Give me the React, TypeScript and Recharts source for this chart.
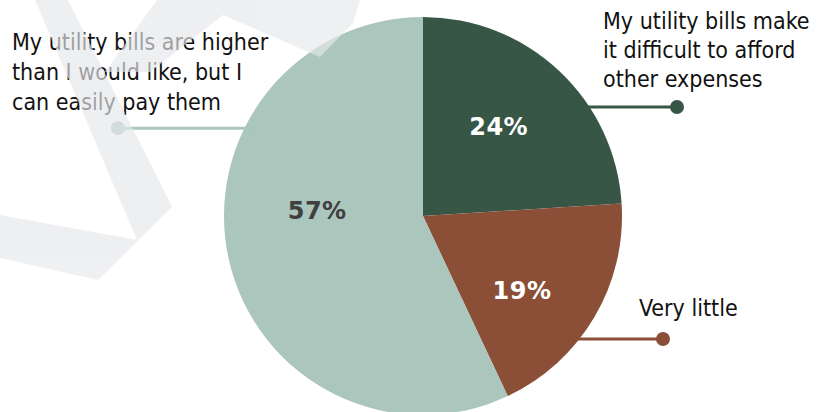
import React from 'react';
import { PieChart, Pie, Cell } from 'recharts';

const SLICE_NAMES = [
  'My utility bills make it difficult to afford other expenses',
  'Very little',
  'My utility bills are higher than I would like, but I can easily pay them',
];
const SLICE_VALUES = [24, 19, 57];
const SLICE_COLORS = ['#385646', '#8A4F36', '#AAC6BD'];
const PCT_COLORS = ['#FFFFFF', '#FFFFFF', '#404040'];
const CALLOUT_LINES = [
  ['My utility bills make', 'it difficult to afford', 'other expenses'],
  ['Very little'],
  ['My utility bills are higher', 'than I would like, but I', 'can easily pay them'],
];

// layout of the callouts (angle where the leader leaves the pie, dot x, text block)
const CALLOUT_LAYOUT = [
  { angle: 33.2, dotX: 677, textX: 603, textY: 29, lineH: 29, clipW: 0 },
  { angle: -38.2, dotX: 663, textX: 639, textY: 316, lineH: 29, clipW: 0 },
  { angle: 153.8, dotX: 118, textX: 12, textY: 50, lineH: 30, clipW: 278 },
];
// small nudges for the percentage labels
const PCT_LAYOUT = [
  { r: 117, nudge: 2.9 },
  { r: 124, nudge: -6.4 },
  { r: 106, nudge: -15.8 },
];

const data = SLICE_NAMES.map((name, i) => ({ name, value: SLICE_VALUES[i] }));

const RAD = Math.PI / 180;
const TEXT_FONT = '"DejaVu Sans Condensed", "DejaVu Sans", sans-serif';

function polar(cx: number, cy: number, r: number, angle: number) {
  return { x: cx + r * Math.cos(-angle * RAD), y: cy + r * Math.sin(-angle * RAD) };
}

function renderLabel(props: any) {
  const { cx, cy, midAngle, outerRadius, index, value } = props;
  const pl = PCT_LAYOUT[index];
  const p = polar(cx, cy, pl.r, midAngle + pl.nudge);
  const cl = CALLOUT_LAYOUT[index];
  const edge = polar(cx, cy, outerRadius, cl.angle);
  const startX = edge.x - Math.sign(edge.x - cx) * 10;
  const color = SLICE_COLORS[index];
  const clipId = `clip-callout-${index}`;
  return (
    <g key={`lbl-${index}`}>
      {cl.clipW > 0 && (
        <defs>
          <clipPath id={clipId}>
            <rect x={0} y={0} width={cl.clipW} height={412} />
          </clipPath>
        </defs>
      )}
      <text
        x={p.x}
        y={p.y}
        dy="0.36em"
        textAnchor="middle"
        fill={PCT_COLORS[index]}
        fontFamily='"DejaVu Sans", sans-serif'
        fontWeight="bold"
        fontSize={24}
        letterSpacing={0.5}
      >
        {`${value}%`}
      </text>
      <line x1={startX} y1={edge.y} x2={cl.dotX} y2={edge.y} stroke={color} strokeWidth={3} />
      <circle cx={cl.dotX} cy={edge.y} r={7} fill={color} />
      <text
        x={cl.textX}
        y={cl.textY}
        fill="#111111"
        fontFamily={TEXT_FONT}
        fontSize={23}
        clipPath={cl.clipW > 0 ? `url(#${clipId})` : undefined}
      >
        {CALLOUT_LINES[index].map((line, j) => (
          <tspan key={j} x={cl.textX} y={cl.textY + j * cl.lineH}>
            {line}
          </tspan>
        ))}
      </text>
    </g>
  );
}

export default function App() {
  return (
    <div style={{ position: 'absolute', left: 0, top: 0, width: 838, height: 412, background: '#fff', overflow: 'hidden' }}>
      <PieChart width={838} height={412} margin={{ top: 0, right: 0, bottom: 0, left: 0 }}>
        <Pie
          data={data}
          dataKey="value"
          nameKey="name"
          cx={423}
          cy={216}
          outerRadius={199}
          startAngle={90}
          endAngle={-270}
          stroke="none"
          label={renderLabel}
          labelLine={false}
          isAnimationActive={false}
        >
          {data.map((d, i) => (
            <Cell key={d.name} fill={SLICE_COLORS[i]} />
          ))}
        </Pie>
      </PieChart>
      {/* faint background logo that sits over the chart */}
      <svg
        width={838}
        height={412}
        style={{ position: 'absolute', left: 0, top: 0, pointerEvents: 'none' }}
      >
        <g fill="#E6E8EB" opacity={0.66}>
          <polygon points="35,0 68,0 172,207 98,280 0,258 0,215 137,240" />
          <polygon points="157,0 360,0 353,23 320,57 223,15 150,72 105,72" />
        </g>
      </svg>
    </div>
  );
}
